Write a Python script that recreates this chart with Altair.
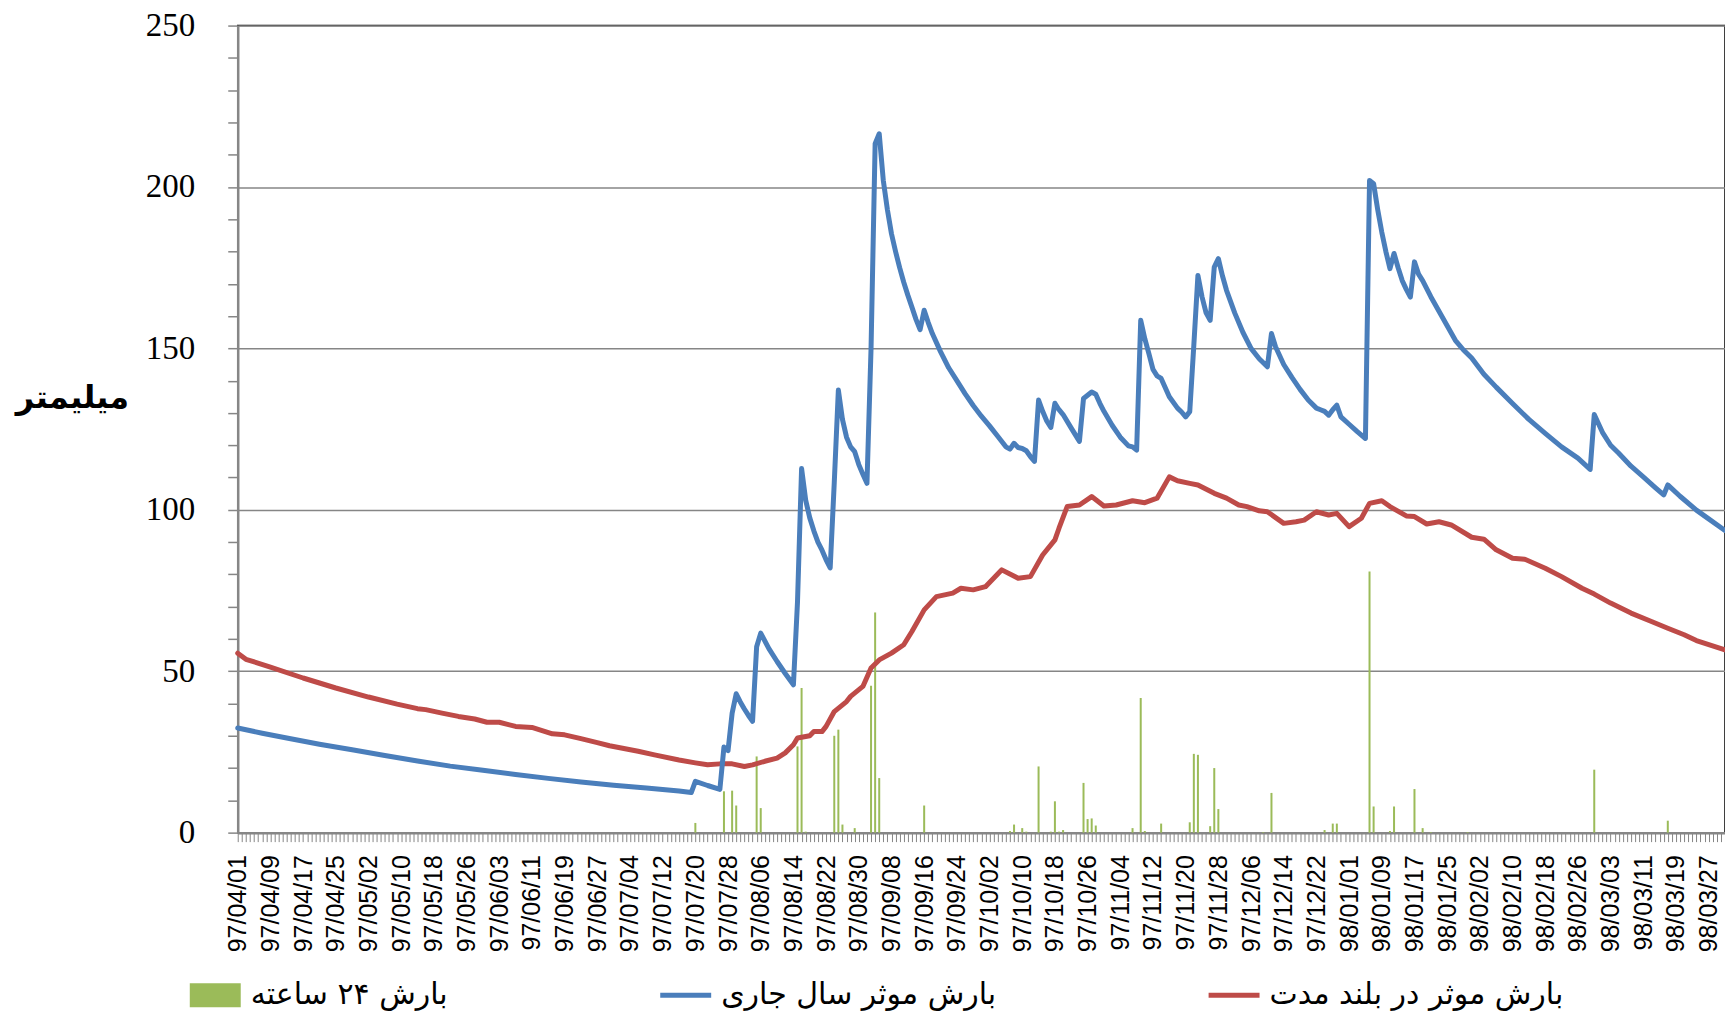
import json
import altair as alt
import pandas as pd

# ---- Persian calendar categories (97/04/01 .. 98/03/31), one per day ----
month_lengths = [(97, 4, 31), (97, 5, 31), (97, 6, 31), (97, 7, 30), (97, 8, 30),
                 (97, 9, 30), (97, 10, 30), (97, 11, 30), (97, 12, 29),
                 (98, 1, 31), (98, 2, 31), (98, 3, 31)]
dates = [f"{y:02d}/{m:02d}/{d:02d}" for y, m, n in month_lengths for d in range(1, n + 1)]
tick_labels = dates[::8]

# ---- series names ----
name_rain = "بارش ۲۴ ساعته"
name_cur = "بارش موثر سال جاری"
name_long = "بارش موثر در بلند مدت"

# ---- 24h rainfall (mm), day index -> value ----
rain_days = [112, 119, 121, 122, 127, 128, 137, 138, 139, 146, 147, 148, 151, 155, 156, 157,
             168, 189, 190, 192, 193, 196, 199, 200, 201, 202, 207, 208, 209, 210, 219, 221,
             222, 226, 233, 234, 235, 238, 239, 240, 251, 253, 266, 268, 269, 277, 278, 282,
             283, 288, 290, 292, 301, 332, 350]
rain_vals = [3.0, 12.8, 13.0, 8.4, 23.6, 7.6, 26.7, 44.8, 0.3, 30.0, 31.9, 2.5, 1.4, 45.5, 68.2, 16.9,
             8.4, 0.5, 2.5, 1.4, 0.3, 20.5, 0.3, 9.7, 0.3, 0.8, 15.4, 4.2, 4.4, 2.2, 1.4, 41.7,
             0.5, 2.8, 3.2, 24.4, 24.1, 2.0, 20.0, 7.3, 0.2, 12.3, 0.8, 2.8, 2.8, 80.9, 8.1, 0.5,
             8.1, 13.5, 1.4, 0.2, 0.2, 19.5, 3.7]

# ---- effective rainfall, current year ----
cur_days = [0, 6, 12, 20, 28, 36, 44, 52, 60, 68, 76, 84, 92, 100, 108, 111,
            112, 115, 118, 119, 120, 121, 122, 123, 124, 125, 126, 127, 128, 130, 132, 134, 136,
            137, 138, 139, 140, 141, 142, 143, 144, 145, 146, 147, 148, 149, 150, 151, 152, 153,
            154, 155, 156, 157, 158, 159, 160, 161, 162, 163, 164, 165, 166, 167, 168, 169, 170,
            172, 174, 176, 178, 180, 182, 184, 186, 188, 189, 190, 191, 192, 193, 194, 195, 196,
            197, 198, 199, 200, 201, 202, 204, 206, 207, 208, 209, 210, 211, 212, 214, 216, 218,
            219, 220, 221, 222, 223, 224, 225, 226, 228, 230, 231, 232, 233, 234, 235, 236, 237,
            238, 239, 240, 241, 242, 244, 246, 248, 250, 252, 253, 254, 256, 258, 260, 262, 264,
            265, 266, 267, 268, 269, 270, 272, 274, 276, 277, 278, 279, 280, 281, 282, 283, 284,
            285, 286, 287, 288, 289, 290, 291, 292, 294, 296, 298, 300, 302, 305, 308, 312, 316,
            320, 324, 328, 331, 332, 334, 336, 338, 341, 344, 347, 349, 350, 353, 357, 360, 364]
cur_vals = [32.4, 30.8, 29.3, 27.4, 25.7, 23.9, 22.2, 20.6, 19.3, 18.0, 16.8, 15.7, 14.7, 13.8, 12.9, 12.4,
            15.9, 14.6, 13.4, 26.5, 25.4, 37.0, 43.0, 40.5, 38.3, 36.3, 34.5, 57.6, 61.8, 57.0, 53.0, 49.3, 45.8,
            71.5, 112.8, 103.0, 97.5, 93.5, 90.0, 87.5, 84.5, 82.0, 108.5, 137.1, 128.0, 122.5, 119.5, 118.0, 114.0, 111.0,
            108.2, 150.0, 213.4, 216.5, 202.0, 193.0, 185.5, 180.0, 175.0, 170.5, 166.5, 162.8, 159.0, 155.8, 161.8, 158.0, 154.6,
            149.0, 144.0, 140.0, 136.0, 132.3, 129.0, 126.0, 122.8, 119.5, 118.8, 120.6, 119.3, 119.0, 118.3, 116.5, 115.0, 134.0,
            130.5, 127.5, 125.5, 133.0, 131.0, 129.5, 125.3, 121.2, 134.5, 135.5, 136.5, 135.8, 133.0, 130.5, 126.2, 122.5, 119.8,
            119.5, 118.5, 158.7, 153.0, 148.4, 143.5, 141.5, 140.7, 135.0, 131.5, 130.3, 128.8, 130.4, 151.0, 172.6, 166.0, 161.0,
            158.7, 175.2, 177.8, 172.5, 168.0, 161.0, 155.0, 150.0, 146.8, 144.3, 154.6, 150.5, 145.0, 141.0, 137.3, 134.0, 131.5,
            131.0, 130.5, 129.3, 131.0, 132.4, 128.8, 126.5, 124.2, 122.1, 202.0, 201.0, 193.0, 186.0, 180.0, 174.7, 179.4, 175.0,
            171.0, 168.3, 165.9, 176.8, 173.0, 171.0, 168.5, 166.0, 161.5, 157.0, 152.5, 149.5, 147.0, 142.0, 138.0, 132.9, 128.0,
            123.7, 119.5, 116.0, 112.5, 129.5, 124.0, 120.0, 117.5, 113.5, 110.2, 106.8, 104.6, 107.7, 104.2, 99.9, 97.2, 93.6]

# ---- effective rainfall, long-term ----
long_days = [0, 2, 8, 16, 24, 32, 39, 44, 46, 50, 54, 58, 61, 64, 68, 72, 77, 80, 84, 88, 91, 98, 102,
             108, 112, 115, 118, 121, 124, 126, 129, 132, 134, 136, 137, 140, 141, 143, 144, 146, 149,
             150, 153, 155, 157, 160, 163, 165, 168, 171, 175, 177, 180, 183, 187, 191, 194, 197, 200,
             201, 203, 206, 209, 212, 215, 219, 222, 225, 228, 230, 233, 235, 239, 242, 245, 247, 250,
             252, 256, 259, 261, 264, 267, 269, 272, 275, 277, 280, 282, 286, 288, 291, 294, 297, 302,
             305, 308, 312, 315, 320, 324, 329, 332, 336, 341, 346, 350, 354, 357, 364]
long_vals = [55.6, 53.7, 51.3, 47.9, 44.8, 42.0, 39.8, 38.4, 38.1, 37.0, 36.0, 35.2, 34.2, 34.2, 32.9, 32.6, 30.6, 30.3, 29.1, 27.9, 26.9, 25.2, 24.1,
             22.5, 21.6, 21.0, 21.3, 21.3, 20.5, 21.0, 22.1, 23.1, 24.7, 27.2, 29.3, 30.0, 31.3, 31.3, 32.9, 37.5, 40.6,
             42.2, 45.3, 51.0, 53.5, 55.6, 58.2, 62.3, 69.0, 73.1, 74.2, 75.7, 75.2, 76.2, 81.4, 78.8, 79.3, 86.0, 90.7,
             94.3, 101.0, 101.5, 104.1, 101.2, 101.5, 102.8, 102.2, 103.6, 110.2, 109.0, 108.2, 107.7, 105.1, 103.6, 101.5, 101.0, 99.7,
             99.4, 95.8, 96.3, 96.8, 99.4, 98.4, 98.9, 94.8, 97.4, 102.0, 102.8, 101.0, 98.1, 97.9, 95.6, 96.3, 95.3, 91.5,
             90.9, 87.6, 85.0, 84.7, 81.9, 79.3, 75.7, 73.9, 71.1, 68.0, 65.4, 63.3, 61.3, 59.5, 56.6]

assert len(rain_days) == len(rain_vals)
assert len(cur_days) == len(cur_vals)
assert len(long_days) == len(long_vals)

df_rain = pd.DataFrame({"date": [dates[i] for i in rain_days], "value": rain_vals})
df_cur = pd.DataFrame({"date": [dates[i] for i in cur_days], "value": cur_vals})
df_long = pd.DataFrame({"date": [dates[i] for i in long_days], "value": long_vals})

GREEN = "#9bbb59"
BLUE = "#4a7ebb"
RED = "#be4b48"
GRAY = "#868686"

names = [name_rain, name_cur, name_long]
colors = [GREEN, BLUE, RED]
shapes = ["M-1,-0.47H1V0.47H-1Z", "M-1,-0.1H1V0.1H-1Z", "M-1,-0.1H1V0.1H-1Z"]

label_expr = "indexof(" + json.dumps(tick_labels) + ", datum.value) >= 0 ? datum.label : ''"

x_enc = alt.X(
    "date:O",
    scale=alt.Scale(type="point", domain=dates, padding=0),
    axis=alt.Axis(
        title=None, labelExpr=label_expr, labelAngle=270, labelFont="Liberation Sans",
        labelFontSize=25, labelColor="black", labelPadding=13, labelOverlap=False,
        tickSize=9, tickColor=GRAY, tickWidth=1, domainColor=GRAY, domainWidth=2.5, grid=False,
    ),
)

y_enc = alt.Y(
    "value:Q",
    scale=alt.Scale(domain=[0, 250], nice=False),
    axis=alt.Axis(
        values=list(range(0, 251, 10)),
        labelExpr="datum.value % 50 === 0 ? datum.label : ''",
        labelOverlap=False,
        grid=True,
        gridColor=GRAY, gridWidth=1.5,
        gridOpacity={"condition": {"test": "datum.value % 50 === 0 && datum.value > 0", "value": 1}, "value": 0},
        tickSize=10, tickColor=GRAY, tickWidth=1.5, domainColor=GRAY, domainWidth=2.5,
        labelFont="Liberation Serif", labelFontSize=33, labelColor="black", labelPadding=33,
        title="میلیمتر", titleAngle=0, titleFont="DejaVu Sans", titleFontSize=32,
        titleFontWeight="bold", titleColor="black", titleX=-166, titleY=372,
        titleAlign="center", titleBaseline="middle",
    ),
)

bars = alt.Chart(df_rain).mark_bar(color=GREEN, size=2).encode(x=x_enc, y=y_enc)
long_line = alt.Chart(df_long).mark_line(color=RED, strokeWidth=5, strokeJoin="round", strokeCap="round").encode(x=x_enc, y=y_enc)
cur_line = alt.Chart(df_cur).mark_line(color=BLUE, strokeWidth=5, strokeJoin="round", strokeCap="round").encode(x=x_enc, y=y_enc)

legend = alt.Legend(
    orient="none", legendX=-48, legendY=945, direction="horizontal", columns=3, title=None,
    symbolSize=2601, symbolStrokeWidth=0, symbolOpacity=1,
    labelFont="DejaVu Sans", labelFontSize=30, labelColor="black", labelLimit=600,
    labelOffset=10, columnPadding=212, padding=0,
)
df_leg = pd.DataFrame({"series": names, "value": [None, None, None]})
leg_layer = alt.Chart(df_leg).mark_point(filled=True, opacity=1).encode(
    y=y_enc,
    color=alt.Color("series:N", scale=alt.Scale(domain=names, range=colors), legend=legend),
    shape=alt.Shape("series:N", scale=alt.Scale(domain=names, range=shapes), legend=legend),
)

chart = alt.layer(bars, long_line, cur_line, leg_layer).properties(
    width=1489, height=808,
    autosize=alt.AutoSizeParams(type="none"),
    padding={"left": 230, "top": 17, "right": 0, "bottom": 186},
    background="white",
).configure_view(stroke="black", strokeWidth=1.5)

chart.save("out.html", embed_options={"renderer": "svg", "actions": False})
